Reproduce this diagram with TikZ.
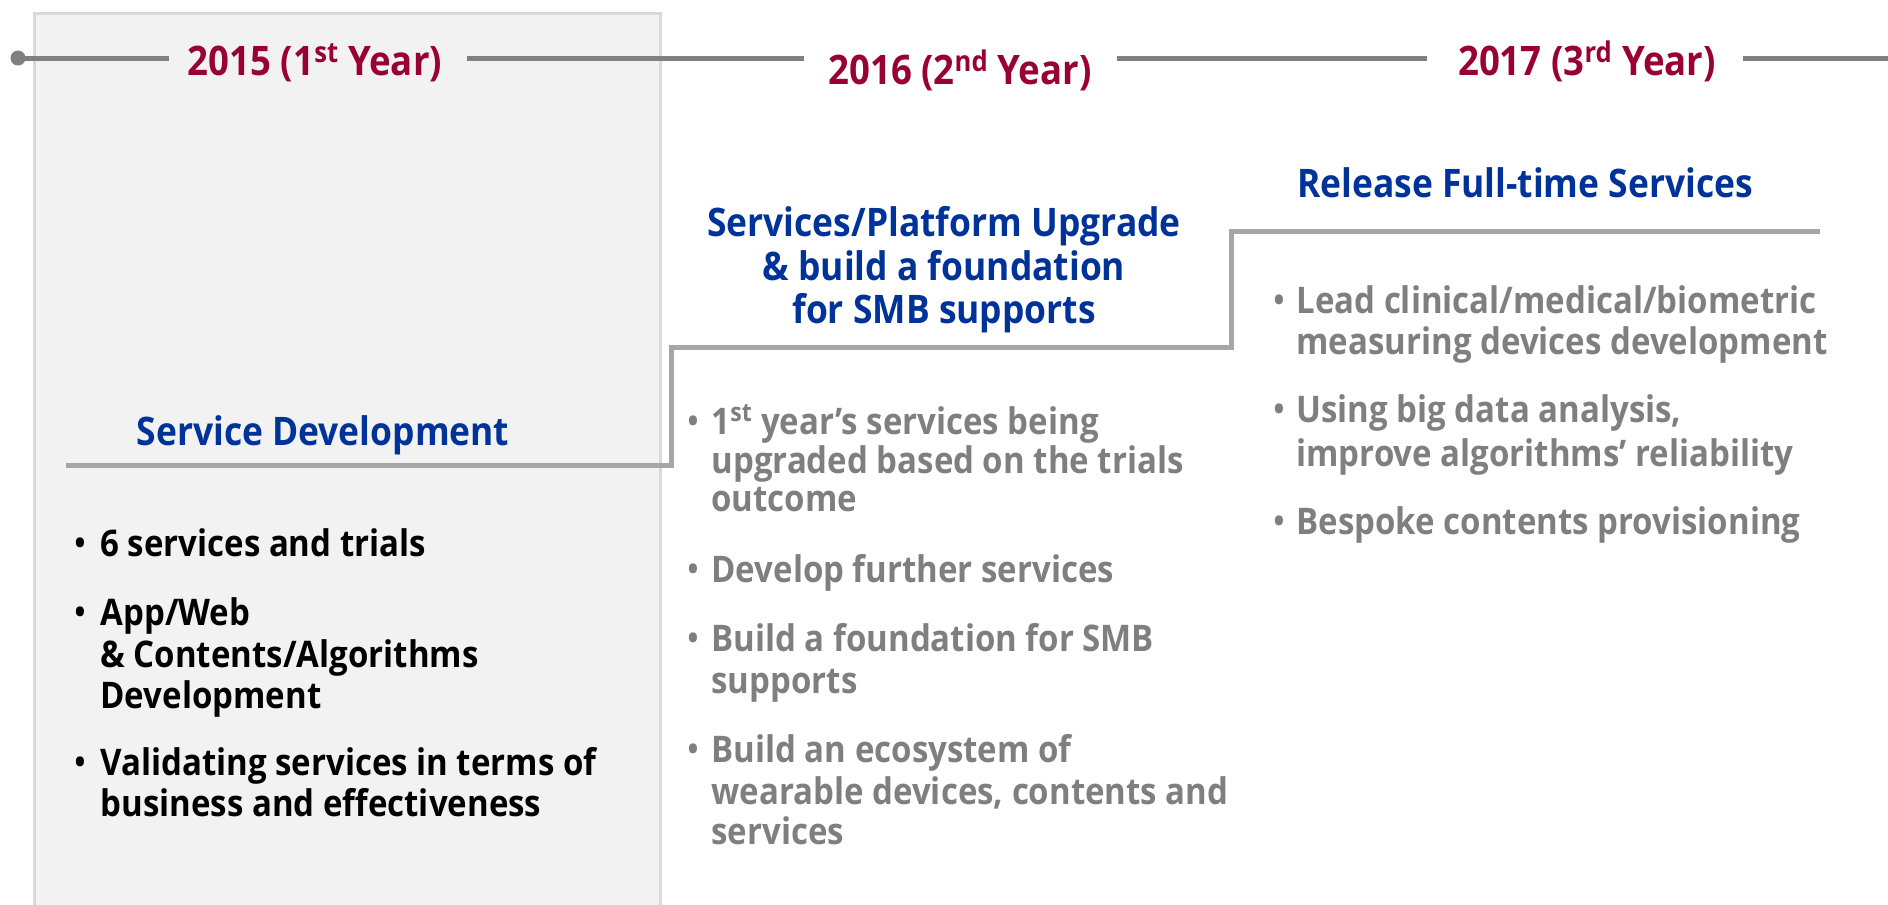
\documentclass[tikz,border=0pt]{standalone}
\usepackage{fontspec}
\setmainfont{Open Sans}[FakeStretch=0.9]
\definecolor{yearred}{HTML}{990033}
\definecolor{headblue}{HTML}{003399}
\definecolor{linegray}{HTML}{808080}
\definecolor{stepgray}{HTML}{A6A6A6}
\definecolor{textgray}{HTML}{7F7F7F}
\definecolor{boxfill}{HTML}{F2F2F2}
\definecolor{boxline}{HTML}{D9D9D9}

\tikzset{every picture/.style={line width=0.75pt}}
\tikzset{
  yearlabel/.style={anchor=base, inner sep=0.75pt, text=yearred, font=\bfseries\fontsize{30.5}{36}\selectfont},
  headlabel/.style={anchor=base, inner sep=0.75pt, text=headblue, font=\bfseries\fontsize{29.5}{35}\selectfont},
  itemline/.style={anchor=base west, inner sep=0.75pt, font=\bfseries\fontsize{27.5}{33}\selectfont},
  itemdot/.style={anchor=base, inner sep=0.75pt, font=\bfseries\fontsize{24}{33}\selectfont},
}

\begin{document}
\begin{tikzpicture}[x=0.75pt,y=0.75pt,yscale=-1,xscale=1]
	\useasboundingbox (0,0) rectangle (1888,904);
	
	%Shape: Rectangle [id:first year panel]
	\draw [color=boxline, fill=boxfill, line width=2.25pt] (34,13) -- (660,13) -- (660,910) -- (34,910) -- cycle ;
	
	%Timeline coordinates
	\coordinate (tl0) at (18,58);
	\coordinate (tl1) at (169,58);
	\coordinate (tl2) at (467,58);
	\coordinate (tl3) at (804,58);
	\coordinate (tl4) at (1117,58);
	\coordinate (tl5) at (1427,58);
	\coordinate (tl6) at (1743,58);
	\coordinate (tl7) at (1888,58);
	%Straight Lines [id:timeline]
	\draw [color=linegray, line width=3.75pt] (tl0) -- (tl1) (tl2) -- (tl3) (tl4) -- (tl5) (tl6) -- (tl7) ;
	%Shape: Circle [id:timeline start]
	\fill [color=linegray] (tl0) circle [radius=7.5] ;
	
	%Straight Lines [id:step line]
	\draw [color=stepgray, line width=3.75pt] (66,465) -- (671,465) -- (671,347) -- (1231,347) -- (1231,231) -- (1820,231) ;
	
	% Text Node
	\draw (315,75) node (year1) [yearlabel] {2015 (1\textsuperscript{st} Year)};
	% Text Node
	\draw (960,84) node (year2) [yearlabel] {2016 (2\textsuperscript{nd} Year)};
	% Text Node
	\draw (1587,75) node (year3) [yearlabel] {2017 (3\textsuperscript{rd} Year)};
	
	% Text Node
	\draw (323,445) node (head1) [headlabel] {Service Development};
	% Text Node
	\draw (944,236) node (head2a) [headlabel] {Services/Platform Upgrade};
	% Text Node
	\draw (944,280) node (head2b) [headlabel] {\& build a foundation};
	% Text Node
	\draw (944,323) node (head2c) [headlabel] {for SMB supports};
	% Text Node
	\draw (1525,197) node (head3) [headlabel] {Release Full-time Services};
	
	% Text Node
	\draw (80,554) node (dot1a) [itemdot] {•};
	\draw (99,556) node (item1a) [itemline] {6 services and trials};
	% Text Node
	\draw (80,623) node (dot1b) [itemdot] {•};
	\draw (99,625) node (item1b) [itemline] {App/Web};
	\draw (99,667) node (item1c) [itemline] {\& Contents/Algorithms};
	\draw (99,708) node (item1d) [itemline] {Development};
	% Text Node
	\draw (80,773) node (dot1c) [itemdot] {•};
	\draw (99,775) node (item1e) [itemline] {Validating services in terms of};
	\draw (99,816) node (item1f) [itemline] {business and effectiveness};
	
	% Text Node
	\draw (693,432) node (dot2a) [itemdot, text=textgray] {•};
	\draw (710,434) node (item2a) [itemline, text=textgray] {1\textsuperscript{st} year’s services being};
	\draw (710,473) node (item2b) [itemline, text=textgray] {upgraded based on the trials};
	\draw (710,511) node (item2c) [itemline, text=textgray] {outcome};
	% Text Node
	\draw (693,580) node (dot2b) [itemdot, text=textgray] {•};
	\draw (710,582) node (item2d) [itemline, text=textgray] {Develop further services};
	% Text Node
	\draw (693,649) node (dot2c) [itemdot, text=textgray] {•};
	\draw (710,651) node (item2e) [itemline, text=textgray] {Build a foundation for SMB};
	\draw (710,693) node (item2f) [itemline, text=textgray] {supports};
	% Text Node
	\draw (693,760) node (dot2d) [itemdot, text=textgray] {•};
	\draw (710,762) node (item2g) [itemline, text=textgray] {Build an ecosystem of};
	\draw (710,804) node (item2h) [itemline, text=textgray] {wearable devices, contents and};
	\draw (710,844) node (item2i) [itemline, text=textgray] {services};
	
	% Text Node
	\draw (1279,311) node (dot3a) [itemdot, text=textgray] {•};
	\draw (1295,313) node (item3a) [itemline, text=textgray] {Lead clinical/medical/biometric};
	\draw (1295,354) node (item3b) [itemline, text=textgray] {measuring devices development};
	% Text Node
	\draw (1279,420) node (dot3b) [itemdot, text=textgray] {•};
	\draw (1295,422) node (item3c) [itemline, text=textgray] {Using big data analysis,};
	\draw (1295,466) node (item3d) [itemline, text=textgray] {improve algorithms’ reliability};
	% Text Node
	\draw (1279,532) node (dot3c) [itemdot, text=textgray] {•};
	\draw (1295,534) node (item3e) [itemline, text=textgray] {Bespoke contents provisioning};
	
\end{tikzpicture}
\end{document}
